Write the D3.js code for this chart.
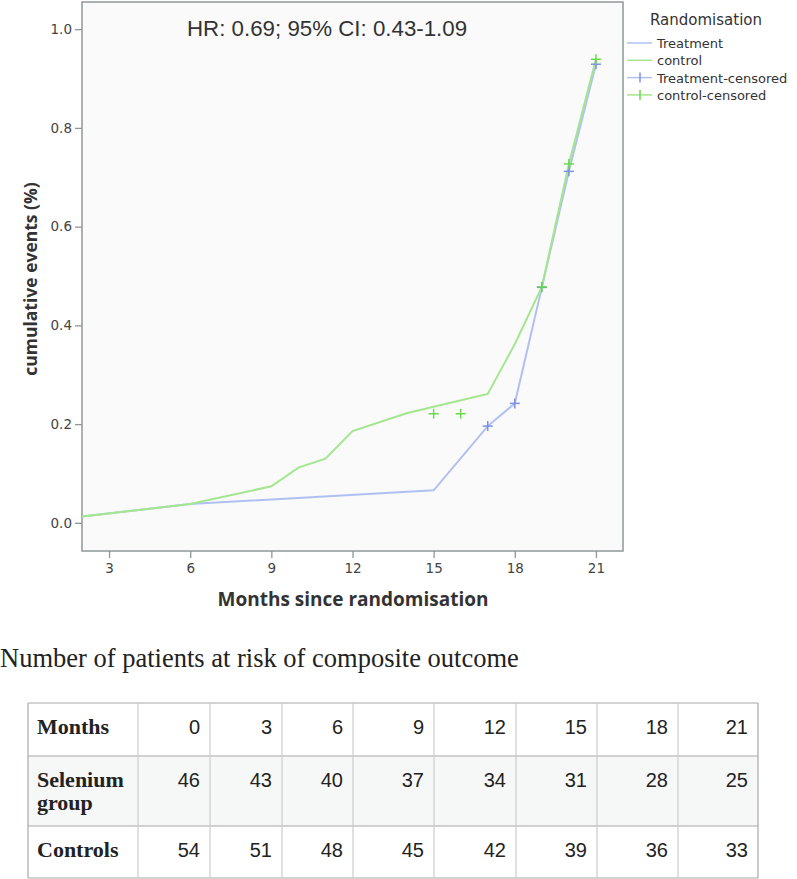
<!DOCTYPE html>
<html>
<head>
<meta charset="utf-8">
<script src="https://cdn.jsdelivr.net/npm/d3@7"></script>
<style>
  body { margin: 0; background: #fff; }
  svg { display: block; }
</style>
</head>
<body>
<div id="chart"></div>
<script>
// curve data
var treatMonths = [2, 6, 15, 17, 18, 19, 20, 21];
var treatValues = [0.013, 0.038, 0.066, 0.196, 0.242, 0.477, 0.712, 0.929];
var ctrlMonths = [2, 6, 9, 10, 11, 12, 14, 15, 17, 18, 19, 20, 21];
var ctrlValues = [0.013, 0.038, 0.074, 0.112, 0.130, 0.186, 0.222, 0.235, 0.261, 0.362, 0.478, 0.727, 0.939];
var treatCensMonths = [17, 18, 19, 20, 21];
var treatCensValues = [0.196, 0.242, 0.477, 0.712, 0.929];
var ctrlCensMonths = [15, 16, 19, 20, 21];
var ctrlCensValues = [0.221, 0.221, 0.478, 0.727, 0.939];

var xTicks = [3, 6, 9, 12, 15, 18, 21];
var yTicks = [0, 0.2, 0.4, 0.6, 0.8, 1.0];
var legendLabels = ['Treatment', 'control', 'Treatment-censored', 'control-censored'];

// at-risk table
var riskMonths = [0, 3, 6, 9, 12, 15, 18, 21];
var riskSelenium = [46, 43, 40, 37, 34, 31, 28, 25];
var riskControls = [54, 51, 48, 45, 42, 39, 36, 33];
var rowLabels = [['Months'], ['Selenium', 'group'], ['Controls']];

var blueLine = '#b1c0f3', greenLine = '#a3e68f';
var blueMark = '#7d8fe6', greenMark = '#6ad94a';

var svg = d3.select('#chart')
            .append('svg')
            .attr('width', 797)
            .attr('height', 879);

var x = d3.scaleLinear().domain([2, 22]).range([82, 623]);
var y = d3.scaleLinear().domain([-0.057, 1.055]).range([551, 2]);

svg.append('rect')
   .attr('x', x(2))
   .attr('y', y(1.055))
   .attr('width', x(22) - x(2))
   .attr('height', y(-0.057) - y(1.055))
   .style('fill', '#fafafa')
   .style('stroke', '#8e9898')
   .style('stroke-width', 1.5);

var yAxis = svg.append('g')
   .attr('transform', 'translate(' + x(2) + ',0)')
   .call(d3.axisLeft(y).tickValues(yTicks).tickFormat(d3.format('.1f')).tickSize(7).tickPadding(3));
var xAxis = svg.append('g')
   .attr('transform', 'translate(0,' + y(-0.057) + ')')
   .call(d3.axisBottom(x).tickValues(xTicks).tickSize(7).tickPadding(5));

[yAxis, xAxis].forEach(function(g) {
   g.select('.domain').remove();
   g.selectAll('line').style('stroke', '#8e9898').style('stroke-width', 1.3);
   g.selectAll('text')
    .style('font-family', 'DejaVu Sans, sans-serif')
    .style('font-size', '13.5px')
    .style('fill', '#444');
});

var line = d3.line()
   .x(function(d) { return x(d[0]); })
   .y(function(d) { return y(d[1]); });

svg.append('path')
   .datum(d3.zip(treatMonths, treatValues))
   .attr('d', line)
   .style('fill', 'none')
   .style('stroke', blueLine)
   .style('stroke-width', 2);

svg.append('path')
   .datum(d3.zip(ctrlMonths, ctrlValues))
   .attr('d', line)
   .style('fill', 'none')
   .style('stroke', greenLine)
   .style('stroke-width', 2);

function crosses(data, color) {
   var g = svg.append('g');
   var pts = g.selectAll('g').data(data).enter().append('g')
      .attr('transform', function(d) { return 'translate(' + x(d[0]) + ',' + y(d[1]) + ')'; });
   pts.append('line').attr('x1', -5).attr('x2', 5).attr('y1', 0).attr('y2', 0);
   pts.append('line').attr('x1', 0).attr('x2', 0).attr('y1', -5).attr('y2', 5);
   pts.selectAll('line').style('stroke', color).style('stroke-width', 1.5);
}
crosses(d3.zip(treatCensMonths, treatCensValues), blueMark);
crosses(d3.zip(ctrlCensMonths, ctrlCensValues), greenMark);

// titles
svg.append('text')
   .attr('x', 187)
   .attr('y', 36)
   .text('HR: 0.69; 95% CI: 0.43-1.09')
   .style('font-family', 'Liberation Sans, Arial, sans-serif')
   .style('font-size', '22.3px')
   .style('fill', '#333');

svg.append('text')
   .attr('transform', 'translate(37,279) rotate(-90)')
   .attr('text-anchor', 'middle')
   .text('cumulative events (%)')
   .style('font-family', 'Open Sans, sans-serif')
   .style('font-weight', 'bold')
   .style('font-size', '17.5px')
   .style('fill', '#333');

svg.append('text')
   .attr('x', 353)
   .attr('y', 606)
   .attr('text-anchor', 'middle')
   .text('Months since randomisation')
   .style('font-family', 'Open Sans, sans-serif')
   .style('font-weight', 'bold')
   .style('font-size', '19px')
   .style('fill', '#333');

// legend
var legend = svg.append('g').attr('transform', 'translate(627,0)');
legend.append('text')
   .attr('x', 23)
   .attr('y', 25)
   .text('Randomisation')
   .style('font-family', 'DejaVu Sans, sans-serif')
   .style('font-size', '15px')
   .style('fill', '#333');
var legendColors = [blueLine, greenLine, blueMark, greenMark];
var items = legend.selectAll('.item').data(legendLabels).enter().append('g')
   .attr('class', 'item')
   .attr('transform', function(d, i) { return 'translate(0,' + (43 + i * 17.3) + ')'; });
items.append('line')
   .attr('x1', 0).attr('x2', 25).attr('y1', 0).attr('y2', 0)
   .style('stroke', function(d, i) { return i < 2 ? legendColors[i] : legendColors[i - 2]; })
   .style('stroke-width', 1.5);
items.filter(function(d, i) { return i >= 2; })
   .append('line')
   .attr('x1', 13).attr('x2', 13).attr('y1', -5).attr('y2', 5)
   .style('stroke', function(d) { return legendColors[legendLabels.indexOf(d)]; })
   .style('stroke-width', 1.5);
items.append('text')
   .attr('x', 30)
   .attr('y', 5)
   .text(function(d) { return d; })
   .style('font-family', 'DejaVu Sans, sans-serif')
   .style('font-size', '13px')
   .style('fill', '#333');

// at-risk table
svg.append('text')
   .attr('x', 0)
   .attr('y', 667)
   .text('Number of patients at risk of composite outcome')
   .style('font-family', 'Liberation Serif, Times New Roman, serif')
   .style('font-size', '26.5px')
   .style('fill', '#222');

var colX = [28, 138, 210, 282, 353, 434, 516, 597, 678, 758];
var rowY = [703, 756, 826, 878];
var rows = [riskMonths, riskSelenium, riskControls];

var table = svg.append('g');
table.selectAll('.rowbg').data(rows).enter().append('rect')
   .attr('x', colX[0])
   .attr('y', function(d, i) { return rowY[i]; })
   .attr('width', colX[colX.length - 1] - colX[0])
   .attr('height', function(d, i) { return rowY[i + 1] - rowY[i]; })
   .style('fill', function(d, i) { return i === 1 ? '#f6f8f8' : '#fff'; });

table.selectAll('.hline').data(rowY).enter().append('line')
   .attr('x1', colX[0]).attr('x2', colX[colX.length - 1])
   .attr('y1', function(d) { return d; }).attr('y2', function(d) { return d; })
   .style('stroke', '#a8a8a8').style('stroke-width', 1.2);
table.selectAll('.vline').data(colX).enter().append('line')
   .attr('x1', function(d) { return d; }).attr('x2', function(d) { return d; })
   .attr('y1', rowY[0]).attr('y2', rowY[rowY.length - 1])
   .style('stroke', function(d, i) { return (i === 0 || i === colX.length - 1) ? '#a8a8a8' : '#cccccc'; })
   .style('stroke-width', 1.2);

rowLabels.forEach(function(lbl, r) {
   var t = table.append('text')
      .attr('x', 37)
      .attr('y', rowY[r] + 31)
      .style('font-family', 'Liberation Serif, Times New Roman, serif')
      .style('font-weight', 'bold')
      .style('font-size', '22px')
      .style('fill', '#222');
   lbl.forEach(function(s, k) {
      t.append('tspan').attr('x', 37).attr('dy', k === 0 ? 0 : 23).text(s);
   });
});

rows.forEach(function(vals, r) {
   table.selectAll('.cell' + r).data(vals).enter().append('text')
      .attr('x', function(d, i) { return colX[i + 2] - 10; })
      .attr('y', rowY[r] + 31)
      .attr('text-anchor', 'end')
      .text(function(d) { return d; })
      .style('font-family', 'Liberation Sans Narrow, Arial Narrow, Liberation Sans, sans-serif')
      .style('font-size', '20px')
      .style('fill', '#222');
});
</script>
</body>
</html>
